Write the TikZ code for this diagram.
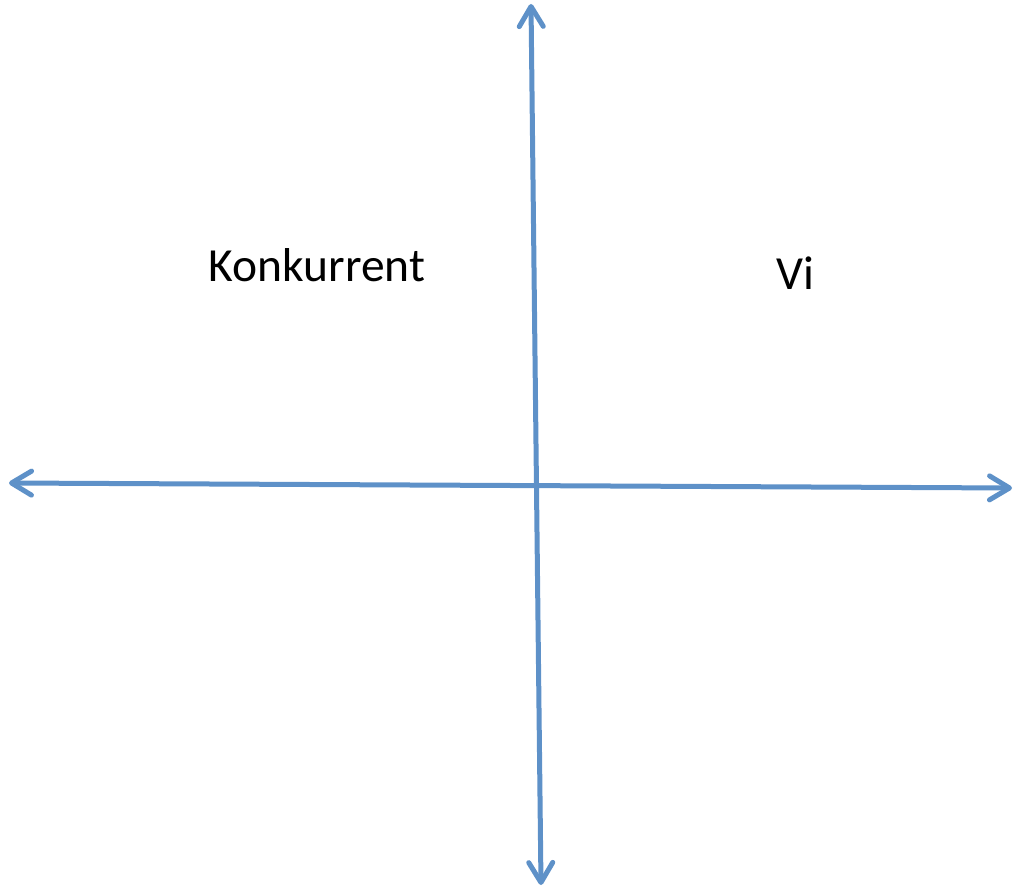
\documentclass[tikz,border=0pt]{standalone}
\usepackage{fontspec}
\setmainfont{Carlito}
\usepackage{tikz}
\usetikzlibrary{arrows.meta}
\usepackage{xcolor}
\definecolor{axisblue}{RGB}{94,145,200}

\begin{document}
\begin{tikzpicture}[x=1pt, y=-1pt,
    axis/.style={line width=5pt, axisblue, line cap=round,
        {Straight Barb[length=20pt, width=24pt, line cap=round, line join=round]}-{Straight Barb[length=20pt, width=24pt, line cap=round, line join=round]}},
    label/.style={font=\fontsize{47.5}{57}\selectfont, inner sep=0pt}]
    \useasboundingbox (0,0) rectangle (1017,890);

    % Axis ends
    \coordinate (top) at (531,4);
    \coordinate (bottom) at (541,885);
    \coordinate (left) at (9,483);
    \coordinate (right) at (1012,488);

    % Axes
    \draw[axis] (left) -- (right);
    \draw[axis] (top) -- (bottom);

    % Quadrant labels
    \node[label] (rival) at (317,265) {Konkurrent};
    \node[label] (us) at (795,273) {Vi};
\end{tikzpicture}
\end{document}
